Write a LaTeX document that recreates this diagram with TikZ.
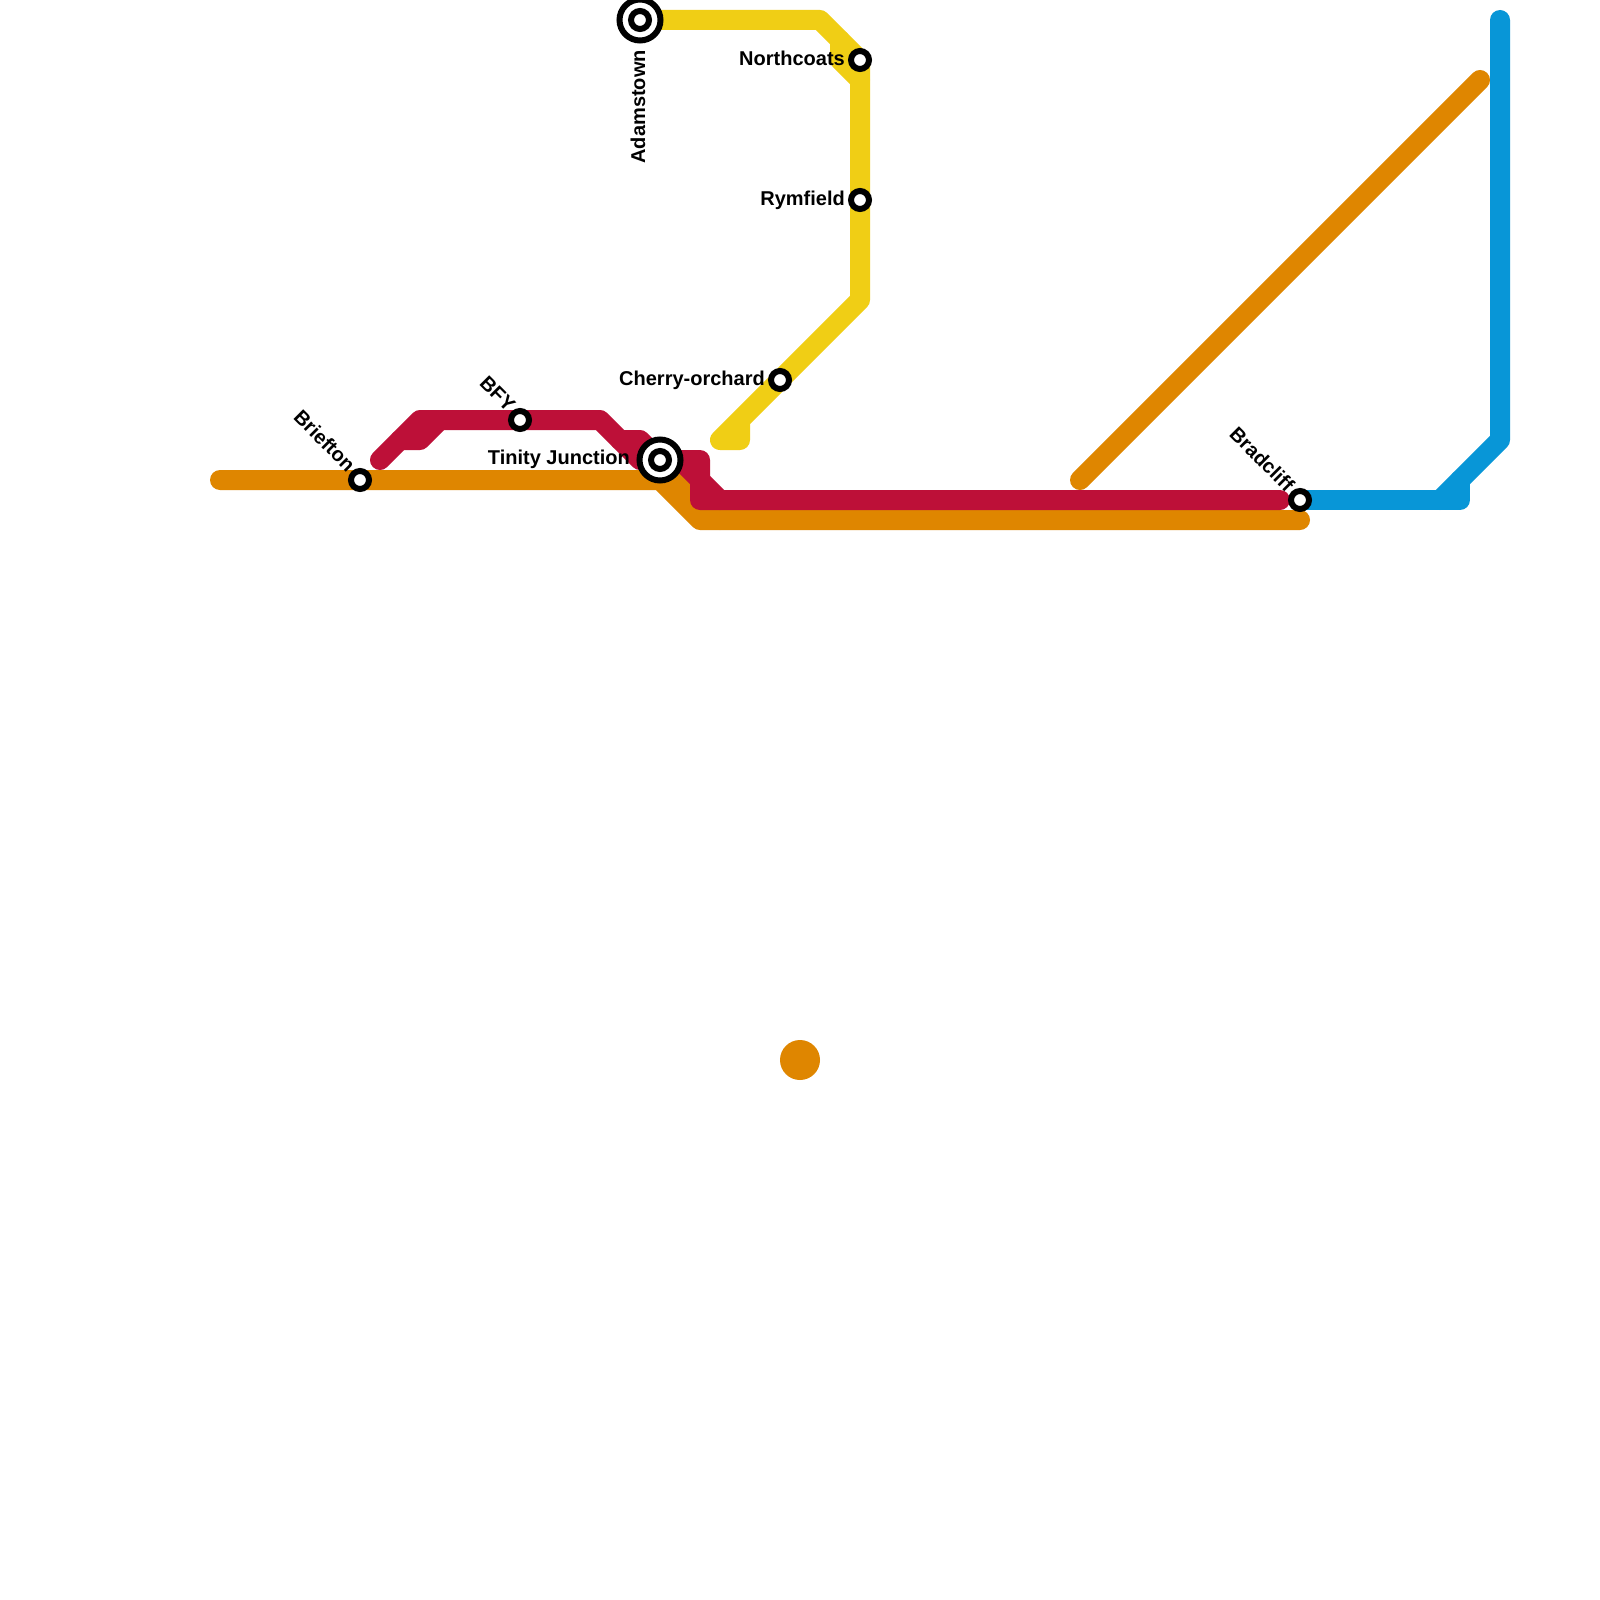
\documentclass[tikz,border=0pt]{standalone}
\usepackage{fontspec}
\setmainfont{Liberation Sans}
\definecolor{orangeline}{HTML}{DF8600}
\definecolor{redline}{HTML}{BD1038}
\definecolor{yellowline}{HTML}{F0CE15}
\definecolor{blueline}{HTML}{0896D7}
\tikzset{
  x=1pt,y=-1pt,
  metro/.style={line width=20pt,line cap=round,line join=round},
  stop/.style={circle,draw=black,fill=white,line width=6pt,minimum size=18pt,inner sep=0pt,outer sep=0pt},
  hub/.style={circle,draw=black,fill=white,line width=6pt,minimum size=41pt,inner sep=0pt,outer sep=0pt},
  lbl/.style={font=\bfseries\fontsize{20}{22}\selectfont,inner sep=0pt,text=black}
}
\begin{document}
\begin{tikzpicture}
\useasboundingbox (0,0) rectangle (1600,1600);
\fill[white] (0,0) rectangle (1600,1600);
% stations positions
\coordinate (pAdam) at (640,20);
\coordinate (pNorth) at (860,60);
\coordinate (pRym) at (860,200);
\coordinate (pCherry) at (780,380);
\coordinate (pBFY) at (520,420);
\coordinate (pBrief) at (360,480);
\coordinate (pTin) at (660,460);
\coordinate (pBrad) at (1300,500);
% orange
\draw[metro,orangeline] (220,480) -- (pBrief) -- (660,480) -- (700,520) -- (1300,520);
\draw[metro,orangeline] (660,480) -- (680,480) -- (720,520);
\draw[metro,orangeline] (1080,480) -- (1480,80);
\fill[orangeline] (800,1060) circle (20);
% red
\draw[metro,redline] (380,460) -- (420,420) -- (pBFY) -- (600,420) -- (640,460) -- (pTin);
\draw[metro,redline] (400,440) -- (420,440) -- (440,420);
\draw[metro,redline] (620,440) -- (640,440) -- (pTin) -- (700,460) -- (700,500) -- (720,500);
\draw[metro,redline] (680,460) -- (720,500) -- (1280,500);
% yellow
\draw[metro,yellowline] (pAdam) -- (820,20) -- (pNorth) -- (pRym) -- (860,300) -- (pCherry) -- (720,440) -- (740,440) -- (740,420);
\draw[metro,yellowline] (840,40) -- (840,60) -- (860,80);
% blue
\draw[metro,blueline] (pBrad) -- (1460,500) -- (1460,480);
\draw[metro,blueline] (1440,500) -- (1500,440) -- (1500,20);
% stations
\node[hub] (hAdam) at (pAdam) {};
\node[hub] (hTin) at (pTin) {};
\node[stop] (Adam) at (pAdam) {};
\node[stop] (North) at (pNorth) {};
\node[stop] (Rym) at (pRym) {};
\node[stop] (Cherry) at (pCherry) {};
\node[stop] (BFY) at (pBFY) {};
\node[stop] (Brief) at (pBrief) {};
\node[stop] (Tin) at (pTin) {};
\node[stop] (Brad) at (pBrad) {};
% labels
\node[lbl,anchor=east,rotate=90] (tAdam) at (638,50) {Adamstown};
\node[lbl,anchor=east] (tNorth) at (845,58) {Northcoats};
\node[lbl,anchor=east] (tRym) at (845,200) {Rymfield};
\node[lbl,anchor=east] (tCherry) at (765,380) {Cherry-orchard};
\node[lbl,anchor=east] (tTin) at (630,459) {Tinity Junction};
\node[lbl,anchor=east,rotate=-45] (tBFY) at (512,408) {BFY};
\node[lbl,anchor=east,rotate=-45] (tBrief) at (352,468) {Briefton};
\node[lbl,anchor=east,rotate=-45] (tBrad) at (1291,488) {Bradcliff};
\end{tikzpicture}
\end{document}
